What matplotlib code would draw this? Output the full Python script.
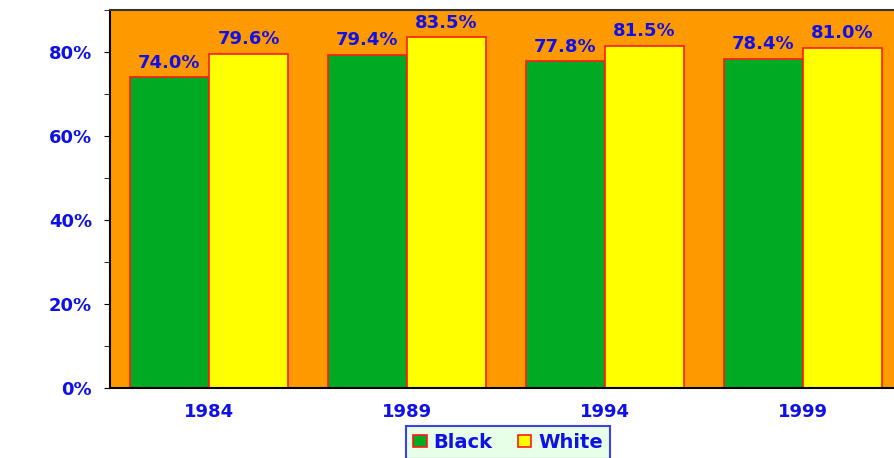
import matplotlib
matplotlib.use("Agg")
import matplotlib.pyplot as plt
from matplotlib.ticker import MultipleLocator, FuncFormatter
import numpy as np

years = ["1984", "1989", "1994", "1999"]
black = [74.0, 79.4, 77.8, 78.4]
white = [79.6, 83.5, 81.5, 81.0]

plt.rcParams['font.family'] = ['DejaVu Sans']
fig = plt.figure(figsize=(8.94, 4.58), dpi=100)
ax = fig.add_axes([110/894, 1-388/458, (902-110)/894, (388-10)/458])
ax.set_facecolor('#FF9900')

blue = '#1010E8'
x = np.arange(len(years))
w = 0.40
b1 = ax.bar(x - w/2, black, w, color='#00AA22', edgecolor='#FF1A1A', linewidth=1.2, label='Black')
b2 = ax.bar(x + w/2, white, w, color='#FFFF00', edgecolor='#FF1A1A', linewidth=1.2, label='White')
for bars, vals in ((b1, black), (b2, white)):
    for r, v in zip(bars, vals):
        ax.text(r.get_x() + r.get_width()/2, v + 1.3, f"{v:.1f}%", ha='center', va='bottom',
                color=blue, fontsize=13, fontweight='bold')

ax.set_xlim(-0.5, 3.5)
ax.set_ylim(0, 90)
ax.set_xticks(x)
ax.set_xticklabels(years)
ax.yaxis.set_major_locator(MultipleLocator(20))
ax.yaxis.set_minor_locator(MultipleLocator(10))
ax.yaxis.set_major_formatter(FuncFormatter(lambda v, p: f"{int(v)}%"))
ax.tick_params(axis='y', which='both', direction='out', length=4, colors='black', labelcolor=blue, labelsize=13, pad=9)
ax.tick_params(axis='x', length=0, labelcolor=blue, labelsize=13, pad=11)
for lab in ax.get_xticklabels() + ax.get_yticklabels():
    lab.set_fontweight('bold')
ax.spines['right'].set_visible(False)
ax.spines['top'].set_color('#333333')
ax.spines['top'].set_linewidth(1.5)
ax.spines['left'].set_linewidth(1.5)
ax.spines['bottom'].set_linewidth(1.5)

leg = fig.legend(loc='upper center', bbox_to_anchor=(508/894, 1-426/458), ncol=2, frameon=True,
                 fancybox=False, prop={'weight': 'bold', 'size': 14}, handlelength=0.7, handleheight=0.55,
                 columnspacing=1.3, handletextpad=0.35, borderpad=0.35, borderaxespad=0)
leg.get_frame().set_facecolor('#E0FFE0')
leg.get_frame().set_edgecolor(blue)
leg.get_frame().set_linewidth(1.5)
for t in leg.get_texts():
    t.set_color(blue)

fig.savefig('out.png', dpi=100, facecolor='white')
